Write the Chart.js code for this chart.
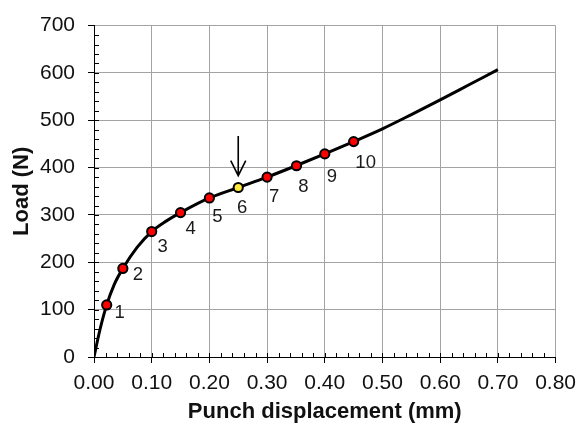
<!DOCTYPE html>
<html>
<head>
<meta charset="utf-8">
<script src="https://cdn.jsdelivr.net/npm/chart.js@4/dist/chart.umd.min.js"></script>
<style>
  html, body { margin: 0; padding: 0; background: #ffffff; }
  #wrap { width: 584px; height: 425px; }
</style>
</head>
<body>
<div id="wrap"><canvas id="c" width="584" height="425"></canvas></div>
<script>
// Load–displacement curve of the small punch test
const curveDisp = [0, 0.01, 0.022, 0.035, 0.05, 0.075, 0.10, 0.125, 0.15, 0.20, 0.25, 0.30, 0.35, 0.40, 0.45, 0.50, 0.55, 0.60, 0.65, 0.70];
const curveLoad = [0, 56, 110, 153, 187, 232, 265, 287, 305, 336, 358, 380, 404, 429, 455, 482, 512, 543, 575, 607];

// Interrupted-test points 1–10
const pointNames = ['1', '2', '3', '4', '5', '6', '7', '8', '9', '10'];
const pointDisp = [0.022, 0.05, 0.10, 0.15, 0.20, 0.25, 0.30, 0.351, 0.40, 0.45];
const pointLoad = [110, 187, 265, 305, 336, 358, 380, 404, 429, 455];
const highlighted = '6';

// Arrow pointing at the highlighted point (x, load from, load to)
const arrowDisp = 0.25;
const arrowLoadTop = 467;
const arrowLoadTip = 383;

// Axis ticks
const xTickValues = [0, 0.1, 0.2, 0.3, 0.4, 0.5, 0.6, 0.7, 0.8];
const yTickValues = [0, 100, 200, 300, 400, 500, 600, 700];
const xMinorStep = 0.02;
const yMinorStep = 20;

// Label placement next to each marker, in pixels
const labelOffsets = [[13, 8], [15, 6], [11, 15], [10, 16], [8, 19], [4, 20], [7, 20], [7, 21], [7, 23], [12, 21]];

const FONT = "'Liberation Sans', Arial, sans-serif";

const overlay = {
  id: 'overlay',
  afterDatasetsDraw(chart) {
    const ctx = chart.ctx;
    const xs = chart.scales.x, ys = chart.scales.y;
    ctx.save();
    // minor ticks, drawn inside the plot
    ctx.strokeStyle = '#000';
    ctx.lineWidth = 1;
    ctx.beginPath();
    for (let v = xMinorStep; v < xs.max - 1e-9; v += xMinorStep) {
      const px = Math.round(xs.getPixelForValue(v)) + 0.5;
      ctx.moveTo(px, ys.bottom);
      ctx.lineTo(px, ys.bottom - 4);
    }
    for (let v = yMinorStep; v < ys.max - 1e-9; v += yMinorStep) {
      const py = Math.round(ys.getPixelForValue(v)) + 0.5;
      ctx.moveTo(xs.left, py);
      ctx.lineTo(xs.left + 5, py);
    }
    ctx.stroke();

    // point labels
    ctx.fillStyle = '#1a1a1a';
    ctx.font = '18.5px ' + FONT;
    ctx.textAlign = 'center';
    ctx.textBaseline = 'middle';
    pointNames.forEach((name, i) => {
      const px = xs.getPixelForValue(pointDisp[i]);
      const py = ys.getPixelForValue(pointLoad[i]);
      ctx.fillText(name, px + labelOffsets[i][0], py + labelOffsets[i][1]);
    });

    // arrow
    const ax = xs.getPixelForValue(arrowDisp);
    const aTop = ys.getPixelForValue(arrowLoadTop);
    const aTip = ys.getPixelForValue(arrowLoadTip);
    ctx.strokeStyle = '#000';
    ctx.lineWidth = 1.6;
    ctx.beginPath();
    ctx.moveTo(ax, aTop);
    ctx.lineTo(ax, aTip);
    ctx.moveTo(ax - 7.5, aTip - 15);
    ctx.lineTo(ax, aTip);
    ctx.lineTo(ax + 7.5, aTip - 15);
    ctx.stroke();
    ctx.restore();
  }
};

new Chart(document.getElementById('c'), {
  type: 'scatter',
  data: {
    datasets: [
      {
        label: 'curve',
        data: curveDisp.map((x, i) => ({ x, y: curveLoad[i] })),
        showLine: true,
        borderColor: '#000',
        borderWidth: 3,
        pointRadius: 0,
        cubicInterpolationMode: 'monotone',
        order: 2
      },
      {
        label: 'points',
        data: pointDisp.map((x, i) => ({ x, y: pointLoad[i] })),
        showLine: false,
        pointRadius: 4.6,
        pointBorderWidth: 2,
        pointBorderColor: '#000',
        pointBackgroundColor: pointNames.map(n => n === highlighted ? '#ffe83a' : '#ff0000'),
        order: 1
      }
    ]
  },
  options: {
    responsive: false,
    animation: false,
    devicePixelRatio: 1,
    layout: { padding: { left: 0, right: 22, top: 21, bottom: 0 } },
    plugins: { legend: { display: false }, tooltip: { enabled: false } },
    scales: {
      x: {
        type: 'linear',
        min: 0, max: 0.8,
        afterBuildTicks: s => { s.ticks = xTickValues.map(v => ({ value: v })); },
        afterFit: s => { s.height = 68; },
        grid: { color: '#a3a3a3', lineWidth: 1, tickLength: 6, tickColor: '#000' },
        border: { color: '#000', width: 1 },
        ticks: {
          color: '#111',
          padding: 8,
          maxRotation: 0,
          font: { family: FONT, size: 21 },
          callback: v => Number(v).toFixed(2)
        },
        title: {
          display: true,
          text: 'Punch displacement (mm)',
          color: '#111',
          font: { family: FONT, size: 22, weight: 'bold' },
          padding: { top: 0, bottom: 0 }
        }
      },
      y: {
        type: 'linear',
        min: 0, max: 700,
        afterBuildTicks: s => { s.ticks = yTickValues.map(v => ({ value: v })); },
        afterFit: s => { s.width = 94; },
        grid: { color: '#a3a3a3', lineWidth: 1, tickLength: 6, tickColor: '#000' },
        border: { color: '#000', width: 1 },
        ticks: {
          color: '#111',
          padding: 13,
          font: { family: FONT, size: 21 },
          callback: v => String(v)
        },
        title: {
          display: true,
          text: 'Load (N)',
          color: '#111',
          font: { family: FONT, size: 22, weight: 'bold' },
          padding: { top: 9, bottom: 0 }
        }
      }
    }
  },
  plugins: [overlay]
});
</script>
</body>
</html>
